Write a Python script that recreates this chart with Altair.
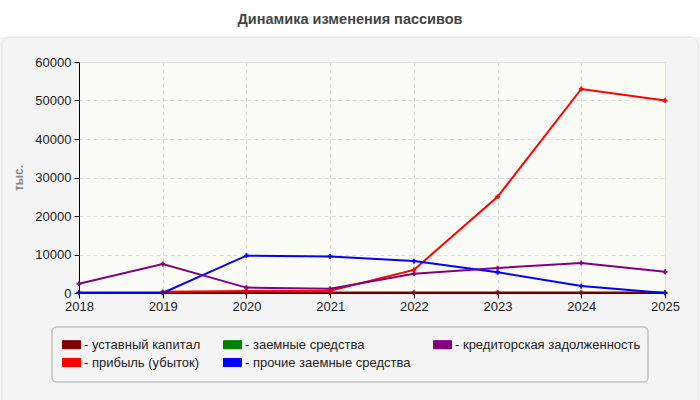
import altair as alt
import pandas as pd

years = [2018, 2019, 2020, 2021, 2022, 2023, 2024, 2025]
y_ticks = [0, 10000, 20000, 30000, 40000, 50000, 60000]

# legend order (filled column by column, two rows)
series_names = [
    "уставный капитал",
    "прибыль (убыток)",
    "заемные средства",
    "прочие заемные средства",
    "кредиторская задолженность",
]
series_colors = ["#800000", "#ff0000", "#008000", "#0000ff", "#800080"]

ustavny = [100, 100, 100, 100, 100, 100, 100, 100]
zaemnye = [None] * 8
kreditor = [2400, 7500, 1400, 1100, 5000, 6500, 7800, 5500]
pribyl = [None, 300, 500, 600, 6000, 25000, 53000, 50000]
prochie = [0, 0, 9700, 9500, 8300, 5400, 1800, 0]

# drawing order: later series lie on top
draw_order = ["уставный капитал", "заемные средства", "прибыль (убыток)",
              "прочие заемные средства", "кредиторская задолженность"]
values = {
    "уставный капитал": ustavny,
    "заемные средства": zaemnye,
    "кредиторская задолженность": kreditor,
    "прибыль (убыток)": pribyl,
    "прочие заемные средства": prochie,
}

rows = []
for k, name in enumerate(draw_order):
    for y, v in zip(years, values[name]):
        if v is not None:
            rows.append({"year": y, "value": v, "series": name, "order": k})
df = pd.DataFrame(rows)

W, H = 586, 231
LEFT, TOP = 79, 62

x_enc = alt.X("year:Q", scale=alt.Scale(domain=[2018, 2025], nice=False),
              axis=alt.Axis(values=years, format="d", title=None, grid=True,
                            gridDash=[4, 3], gridColor="#dddddd",
                            domainColor="#000000", tickColor="#000000",
                            labelColor="#222222", labelFontSize=13,
                            labelPadding=2, tickSize=5, labelFlush=False,
                            labelOverlap=False))
y_enc = alt.Y("value:Q", scale=alt.Scale(domain=[0, 60000], nice=False),
              axis=alt.Axis(values=y_ticks, tickCount=7,
                            format="d", title="тыс.", grid=True,
                            gridDash=[4, 3], gridColor="#dddddd",
                            domainColor="#000000", tickColor="#000000",
                            labelColor="#222222", labelFontSize=13,
                            tickSize=5, labelPadding=3, labelOverlap=False,
                            labelFlush=False,
                            titleColor="#888888", titleFontSize=12,
                            titleFontWeight="bold", titlePadding=9))

color_scale = alt.Scale(domain=series_names, range=series_colors)

frame_df = pd.DataFrame({"k": ["frame"]})

# white strip above the grey panel, holding the title
title_strip = alt.Chart(frame_df).mark_rect(fill="#ffffff").encode(
    x=alt.value(-LEFT), x2=alt.value(700 - LEFT),
    y=alt.value(-TOP), y2=alt.value(37 - TOP))

# outline of the grey panel (its fill is the page background)
panel_border = alt.Chart(frame_df).mark_rect(
    fill="transparent", stroke="#e2e2e2", strokeWidth=1, cornerRadius=8
).encode(x=alt.value(2 - LEFT), x2=alt.value(698 - LEFT),
         y=alt.value(37 - TOP), y2=alt.value(410 - TOP))

legend_box = alt.Chart(frame_df).mark_rect(
    fill="transparent", stroke="#aaaaaa", strokeWidth=1, cornerRadius=4
).encode(x=alt.value(52 - LEFT), x2=alt.value(648 - LEFT),
         y=alt.value(327 - TOP), y2=alt.value(382 - TOP))

title = alt.Chart(frame_df).mark_text(
    text="Динамика изменения пассивов", fontSize=14.5, fontWeight="bold",
    color="#444444", font="Liberation Sans", align="center", baseline="middle"
).encode(x=alt.value(350 - LEFT), y=alt.value(20 - TOP))

legend = alt.Legend(
    title=None, orient="none", legendX=62 - LEFT, legendY=335 - TOP,
    columns=3, columnPadding=20, rowPadding=1, labelLimit=400,
    symbolType="M-1,-0.45L1,-0.45L1,0.45L-1,0.45Z", symbolSize=324,
    symbolStrokeColor="#999999", symbolStrokeWidth=1, symbolOpacity=1,
    labelExpr="'- ' + datum.label", labelFontSize=13,
    labelColor="#222222", labelFont="Liberation Sans", labelOffset=3,
)

color_enc = alt.Color("series:N", scale=color_scale, legend=legend)

points = alt.Chart(df).mark_point(shape="cross", size=22, filled=True).encode(
    x=x_enc, y=y_enc, color=color_enc,
)

lines = alt.Chart(df).mark_line(strokeWidth=2).encode(
    x=x_enc, y=y_enc, order="year:Q", color=color_enc,
)

markers = alt.Chart(df).mark_point(shape="cross", size=22, filled=True).encode(
    x=x_enc, y=y_enc, color=color_enc,
)

chart = alt.layer(title_strip, panel_border, legend_box, title,
                  points, lines, markers).properties(
    width=W, height=H,
    padding={"left": LEFT, "top": TOP, "right": 700 - LEFT - W,
             "bottom": 400 - TOP - H},
    autosize=alt.AutoSizeParams(type="none"),
    background="#f4f4f4",
).configure_view(stroke="#dddddd", fill="#fcfcf6").configure_axis(
    labelFont="Liberation Sans", titleFont="Liberation Sans"
)

chart.save("out.html", embed_options={"renderer": "svg", "actions": False})
